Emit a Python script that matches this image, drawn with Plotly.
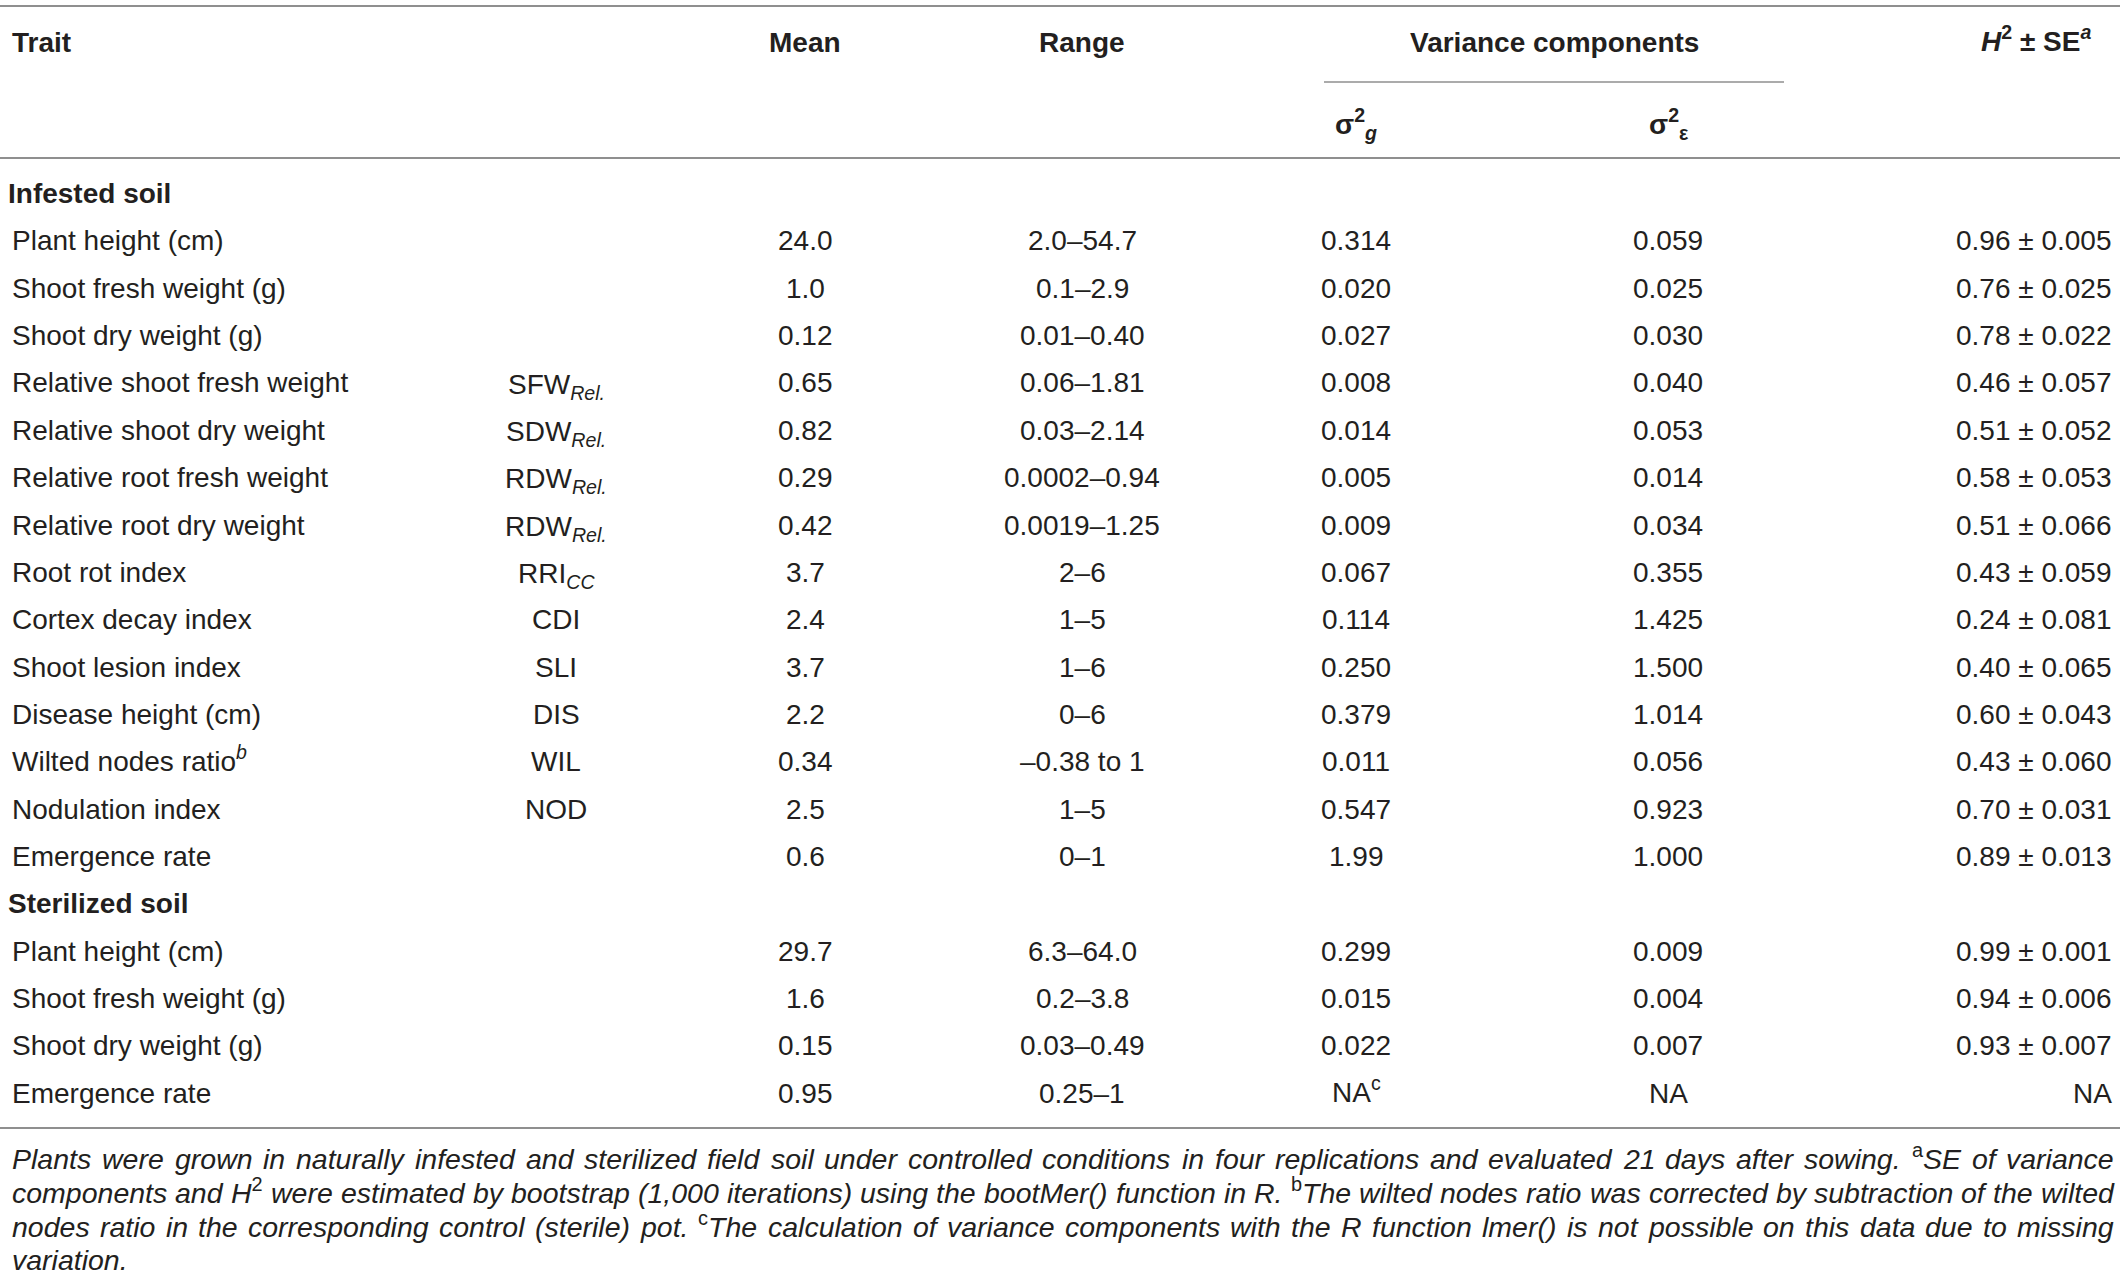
import re
import plotly.graph_objects as go

W, H = 2122, 1285
FONT = "Liberation Sans, Arial, Helvetica, sans-serif"
INK = "#231f20"
RULE = "#8f8f8f"
FS = 28      # body text size
FN = 28.5    # footnote text size

# ---- table data -------------------------------------------------------------
inf_trait = ["Plant height (cm)", "Shoot fresh weight (g)", "Shoot dry weight (g)",
             "Relative shoot fresh weight", "Relative shoot dry weight",
             "Relative root fresh weight", "Relative root dry weight",
             "Root rot index", "Cortex decay index", "Shoot lesion index",
             "Disease height (cm)", "Wilted nodes ratio<sup><i>b</i></sup>",
             "Nodulation index", "Emergence rate"]
inf_abbr = ["", "", "",
            "SFW<sub><i>Rel.</i></sub>", "SDW<sub><i>Rel.</i></sub>",
            "RDW<sub><i>Rel.</i></sub>", "RDW<sub><i>Rel.</i></sub>",
            "RRI<sub><i>CC</i></sub>", "CDI", "SLI", "DIS", "WIL", "NOD", ""]
inf_mean = ["24.0", "1.0", "0.12", "0.65", "0.82", "0.29", "0.42",
            "3.7", "2.4", "3.7", "2.2", "0.34", "2.5", "0.6"]
inf_range = ["2.0–54.7", "0.1–2.9", "0.01–0.40", "0.06–1.81", "0.03–2.14",
             "0.0002–0.94", "0.0019–1.25", "2–6", "1–5", "1–6", "0–6",
             "–0.38 to 1", "1–5", "0–1"]
inf_sg = ["0.314", "0.020", "0.027", "0.008", "0.014", "0.005", "0.009",
          "0.067", "0.114", "0.250", "0.379", "0.011", "0.547", "1.99"]
inf_se = ["0.059", "0.025", "0.030", "0.040", "0.053", "0.014", "0.034",
          "0.355", "1.425", "1.500", "1.014", "0.056", "0.923", "1.000"]
inf_h2 = ["0.96 ± 0.005", "0.76 ± 0.025", "0.78 ± 0.022", "0.46 ± 0.057",
          "0.51 ± 0.052", "0.58 ± 0.053", "0.51 ± 0.066", "0.43 ± 0.059",
          "0.24 ± 0.081", "0.40 ± 0.065", "0.60 ± 0.043", "0.43 ± 0.060",
          "0.70 ± 0.031", "0.89 ± 0.013"]

ste_trait = ["Plant height (cm)", "Shoot fresh weight (g)", "Shoot dry weight (g)",
             "Emergence rate"]
ste_abbr = ["", "", "", ""]
ste_mean = ["29.7", "1.6", "0.15", "0.95"]
ste_range = ["6.3–64.0", "0.2–3.8", "0.03–0.49", "0.25–1"]
ste_sg = ["0.299", "0.015", "0.022", "NA<sup>c</sup>"]
ste_se = ["0.009", "0.004", "0.007", "NA"]
ste_h2 = ["0.99 ± 0.001", "0.94 ± 0.006", "0.93 ± 0.007", "NA"]

sections = [("Infested soil", inf_trait, inf_abbr, inf_mean, inf_range, inf_sg, inf_se, inf_h2),
            ("Sterilized soil", ste_trait, ste_abbr, ste_mean, ste_range, ste_sg, ste_se, ste_h2)]

foot_lines = [
    "Plants were grown in naturally infested and sterilized field soil under controlled "
    "conditions in four replications and evaluated 21 days after sowing. {a}SE of variance",
    "components and H{2} were estimated by bootstrap (1,000 iterations) using the bootMer() "
    "function in R. {b}The wilted nodes ratio was corrected by subtraction of the wilted",
    "nodes ratio in the corresponding control (sterile) pot. {c}The calculation of variance "
    "components with the R function lmer() is not possible on this data due to missing",
    "variation.",
]

# ---- layout helpers ---------------------------------------------------------
X_TRAIT, X_ABBR, X_MEAN, X_RANGE, X_SG, X_SE, X_H2 = 11, 556, 805, 1082, 1356, 1668, 2113
ROW0, ROWH = 193.5, 47.36

annotations = []


def put(text, x, yc, size=FS, xanchor="center", bold=False):
    if bold:
        text = "<b>" + text + "</b>"
    has_sup, has_sub = "<sup>" in text, "<sub>" in text
    if has_sup and not has_sub:
        ya, y = "bottom", yc + 0.57 * size
    elif has_sub and not has_sup:
        ya, y = "top", yc - 0.547 * size
    else:
        ya, y = "middle", yc
    annotations.append(dict(text=text, x=x, y=y, xref="x", yref="y",
                            xanchor=xanchor, yanchor=ya, showarrow=False,
                            borderpad=0, font=dict(family=FONT, size=size, color=INK)))


# header
put("Trait", X_TRAIT, 42, bold=True, xanchor="left")
put("Mean", X_MEAN, 42, bold=True)
put("Range", X_RANGE, 42, bold=True)
put("Variance components", (1324 + 1784) / 2, 42, bold=True)
put("<i>H</i><sup>2</sup> ± SE<sup><i>a</i></sup>", 2092, 42, bold=True, xanchor="right")
put("σ<sup>2</sup><sub><i>g</i></sub>", X_SG, 124, bold=True)
put("σ<sup>2</sup><sub>ε</sub>", X_SE, 124, bold=True)

# body
row = 0
for title, trait, abbr, mean, rng, sg, se, h2 in sections:
    put(title, 7, ROW0 + row * ROWH, bold=True, xanchor="left")
    row += 1
    for i in range(len(trait)):
        yc = ROW0 + row * ROWH
        put(trait[i], X_TRAIT, yc, xanchor="left")
        if abbr[i]:
            put(abbr[i], X_ABBR, yc)
        put(mean[i], X_MEAN, yc)
        put(rng[i], X_RANGE, yc)
        put(sg[i], X_SG, yc)
        put(se[i], X_SE, yc)
        put(h2[i], X_H2, yc, xanchor="right")
        row += 1

# footnote, justified word by word (Arial advance widths)
CW = {" ": 278, "(": 333, ")": 333, ",": 278, ".": 278, "-": 333,
      "a": 556, "b": 556, "c": 500, "d": 556, "e": 556, "f": 278, "g": 556, "h": 556,
      "i": 222, "j": 222, "k": 500, "l": 222, "m": 833, "n": 556, "o": 556, "p": 556,
      "q": 556, "r": 333, "s": 500, "t": 278, "u": 556, "v": 500, "w": 722, "x": 500,
      "y": 500, "z": 500, "H": 722, "M": 833, "P": 667, "R": 722, "S": 667, "E": 667,
      "T": 611}


def seg_w(s, size):
    return sum(CW.get(c, 556) for c in s) * size / 1000


def word_parts(word):
    parts = re.split(r"(\{\w+\})", word)
    html, w = "", 0.0
    for p in parts:
        if not p:
            continue
        if p.startswith("{"):
            html += "<sup>" + p[1:-1] + "</sup>"
            w += seg_w(p[1:-1], FN * 0.7)
        else:
            html += "<i>" + p + "</i>"
            w += seg_w(p, FN)
    return html, w


FX0, FX1 = 11, 2113
foot_y = [1160, 1193.7, 1227.4, 1261]
for li, line in enumerate(foot_lines):
    words = [word_parts(w) for w in line.split(" ")]
    total = sum(w for _, w in words)
    if li < len(foot_lines) - 1 and len(words) > 1:
        gap = (FX1 - FX0 - total) / (len(words) - 1)
    else:
        gap = seg_w(" ", FN)
    x = FX0
    for html, w in words:
        annotations.append(dict(text=html, x=x, y=foot_y[li] + 0.57 * FN, xref="x", yref="y",
                                xanchor="left", yanchor="bottom", showarrow=False,
                                borderpad=0, font=dict(family=FONT, size=FN, color=INK)))
        x += w + gap

# rules
shapes = []
for y0, xa, xb, lw in [(6, 0, 2120, 2), (158, 0, 2120, 2), (82, 1324, 1784, 1.6), (1128, 0, 2120, 2)]:
    shapes.append(dict(type="line", x0=xa, x1=xb, y0=y0, y1=y0, xref="x", yref="y",
                       line=dict(color=RULE, width=lw)))

fig = go.Figure()
fig.update_layout(
    width=W, height=H, margin=dict(l=0, r=0, t=0, b=0),
    paper_bgcolor="white", plot_bgcolor="white",
    xaxis=dict(range=[0, W], visible=False, fixedrange=True),
    yaxis=dict(range=[H, 0], visible=False, fixedrange=True),
    annotations=annotations, shapes=shapes, showlegend=False,
)
fig.write_html("out.html", config={"displayModeBar": False},
               post_script="document.body.style.margin='0';document.body.style.overflow='hidden';")
